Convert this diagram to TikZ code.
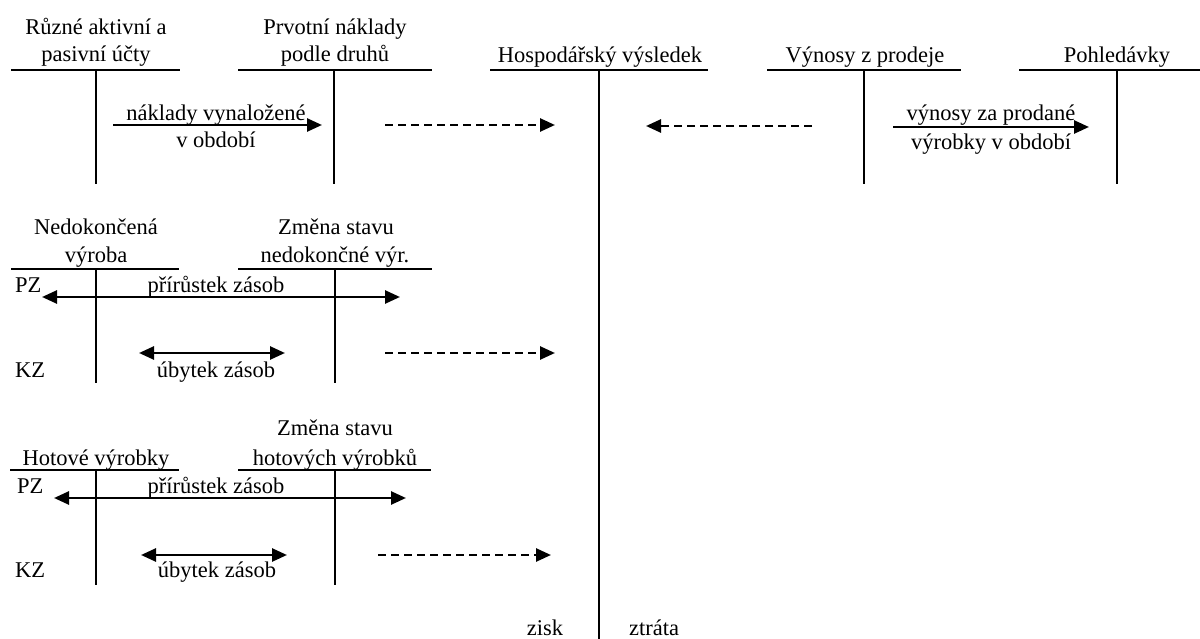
\documentclass[tikz,border=0pt]{standalone}
\usepackage{fontspec}
\setmainfont{Liberation Serif}
\usetikzlibrary{arrows.meta}
\begin{document}
\begin{tikzpicture}[x=1pt,y=-1pt,
  tline/.style={line width=2.8pt},
  lbl/.style={anchor=base,inner sep=0pt,font=\fontsize{22.5}{26}\selectfont},
  lblw/.style={lbl,anchor=base west},
  flow/.style={line width=2.6pt,-{Triangle[length=15pt,width=13pt]}},
  dflow/.style={flow,dash pattern=on 8pt off 5pt},
  both/.style={line width=2.6pt,{Triangle[length=15pt,width=13pt]}-{Triangle[length=15pt,width=13pt]}}]
\useasboundingbox (0,0) rectangle (1200,639);

% ---------- top row titles
\node[lbl] (t1a) at (96,35) {Různé aktivní a};
\node[lbl] (t1b) at (96,62) {pasivní účty};
\node[lbl] (t2a) at (335,35) {Prvotní náklady};
\node[lbl] (t2b) at (335,62) {podle druhů};
\node[lbl] (t3) at (600,63) {Hospodářský výsledek};
\node[lbl] (t4) at (865,63) {Výnosy z prodeje};
\node[lbl] (t5) at (1117,63) {Pohledávky};

% ---------- top row T-accounts
\coordinate (a1l) at (11,70);  \coordinate (a1r) at (180,70);
\coordinate (a1t) at (96,70);  \coordinate (a1b) at (96,184);
\coordinate (a2l) at (238,70); \coordinate (a2r) at (432,70);
\coordinate (a2t) at (334,70); \coordinate (a2b) at (334,184);
\coordinate (hvl) at (490,70); \coordinate (hvr) at (708,70);
\coordinate (hvt) at (599,70); \coordinate (hvb) at (599,639);
\coordinate (vzl) at (767,70); \coordinate (vzr) at (961,70);
\coordinate (vzt) at (864,70); \coordinate (vzb) at (864,184);
\coordinate (pol) at (1019,70); \coordinate (por) at (1200,70);
\coordinate (pot) at (1117,70); \coordinate (pob) at (1117,184);
\draw[tline] (a1l) -- (a1r); \draw[tline] (a1t) -- (a1b);
\draw[tline] (a2l) -- (a2r); \draw[tline] (a2t) -- (a2b);
\draw[tline] (hvl) -- (hvr); \draw[tline] (hvt) -- (hvb);
\draw[tline] (vzl) -- (vzr); \draw[tline] (vzt) -- (vzb);
\draw[tline] (pol) -- (por); \draw[tline] (pot) -- (pob);

% ---------- top row flows
\coordinate (f1s) at (113,125); \coordinate (f1e) at (322,125);
\draw[flow] (f1s) -- (f1e);
\node[lbl] (f1a) at (216,121) {náklady vynaložené};
\node[lbl] (f1b) at (216,148) {v období};
\coordinate (d1s) at (385,125); \coordinate (d1e) at (555,125);
\draw[dflow] (d1s) -- (d1e);
\coordinate (d2s) at (812,126); \coordinate (d2e) at (646,126);
\draw[dflow] (d2s) -- (d2e);
\coordinate (f2s) at (893,127); \coordinate (f2e) at (1089,127);
\draw[flow] (f2s) -- (f2e);
\node[lbl] (f2a) at (991,121) {výnosy za prodané};
\node[lbl] (f2b) at (991,150) {výrobky v období};

% ---------- middle row
\node[lbl] (m1a) at (96,235) {Nedokončená};
\node[lbl] (m1b) at (96,263) {výroba};
\node[lbl] (m2a) at (336,235) {Změna stavu};
\node[lbl] (m2b) at (335,263) {nedokončné výr.};
\coordinate (n1l) at (11,269);  \coordinate (n1r) at (179,269);
\coordinate (n1t) at (96,269);  \coordinate (n1b) at (96,383);
\coordinate (n2l) at (238,269); \coordinate (n2r) at (432,269);
\coordinate (n2t) at (335,269); \coordinate (n2b) at (335,383);
\draw[tline] (n1l) -- (n1r); \draw[tline] (n1t) -- (n1b);
\draw[tline] (n2l) -- (n2r); \draw[tline] (n2t) -- (n2b);
\node[lblw] (mpz) at (15,292) {PZ};
\node[lblw] (mkz) at (15,377) {KZ};
\coordinate (mp1) at (42,297); \coordinate (mp2) at (400,297);
\draw[both] (mp1) -- (mp2);
\node[lbl] (mpt) at (216,292) {přírůstek zásob};
\coordinate (mu1) at (139,353); \coordinate (mu2) at (285,353);
\draw[both] (mu1) -- (mu2);
\node[lbl] (mut) at (216,377) {úbytek zásob};
\coordinate (d3s) at (385,353); \coordinate (d3e) at (555,353);
\draw[dflow] (d3s) -- (d3e);

% ---------- bottom row
\node[lbl] (b2a) at (335,435) {Změna stavu};
\node[lbl] (b1a) at (96,465) {Hotové výrobky};
\node[lbl] (b2b) at (335,465) {hotových výrobků};
\coordinate (h1l) at (10,470);  \coordinate (h1r) at (179,470);
\coordinate (h1t) at (96,470);  \coordinate (h1b) at (96,585);
\coordinate (h2l) at (238,470); \coordinate (h2r) at (431,470);
\coordinate (h2t) at (335,470); \coordinate (h2b) at (335,585);
\draw[tline] (h1l) -- (h1r); \draw[tline] (h1t) -- (h1b);
\draw[tline] (h2l) -- (h2r); \draw[tline] (h2t) -- (h2b);
\node[lblw] (bpz) at (17,493) {PZ};
\node[lblw] (bkz) at (15,577) {KZ};
\coordinate (bp1) at (54,498); \coordinate (bp2) at (406,498);
\draw[both] (bp1) -- (bp2);
\node[lbl] (bpt) at (216,493) {přírůstek zásob};
\coordinate (bu1) at (141,555); \coordinate (bu2) at (287,555);
\draw[both] (bu1) -- (bu2);
\node[lbl] (but) at (217,577) {úbytek zásob};
\coordinate (d4s) at (378,555); \coordinate (d4e) at (551,555);
\draw[dflow] (d4s) -- (d4e);

% ---------- result
\node[lbl] (zisk) at (545,635) {zisk};
\node[lbl] (ztr) at (654,635) {ztráta};
\end{tikzpicture}
\end{document}
